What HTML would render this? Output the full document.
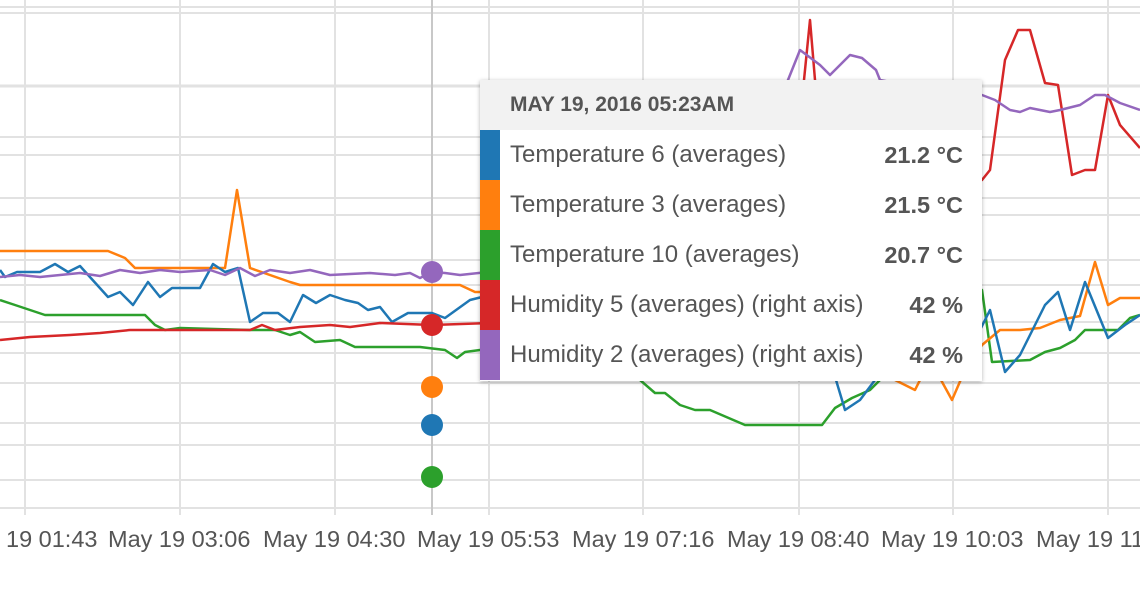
<!DOCTYPE html>
<html><head><meta charset="utf-8"><style>
body{margin:0;width:1140px;height:594px;background:#fff;overflow:hidden;font-family:"Liberation Sans",sans-serif;position:relative}
svg{position:absolute;left:0;top:0}
.tip{position:absolute;left:480px;top:80px;width:502px;height:301px;background:#fff;box-shadow:0 1px 4px rgba(0,0,0,.3)}
.hd{height:50px;background:#f2f2f2;color:#555;font-weight:bold;font-size:21px;line-height:50px;padding-left:30px;white-space:nowrap}
.row{height:50px;position:relative;font-size:24px;color:#555;line-height:50px;white-space:nowrap}
.row .c{position:absolute;left:0;top:0;width:20px;height:50px}
.row .l{position:absolute;left:30px}
.row .v{position:absolute;right:19px;font-weight:bold;font-size:23.5px}
.ax{position:absolute;top:526px;font-size:23.5px;color:#555;white-space:nowrap}
</style></head><body>
<svg width="1140" height="594">
<g stroke="#e2e2e2" stroke-width="2">
<line x1="0" x2="1140" y1="7" y2="7"/><line x1="0" x2="1140" y1="13" y2="13"/>
<line x1="0" x2="1140" y1="86" y2="86" stroke-width="3"/><line x1="0" x2="1140" y1="137" y2="137"/>
<line x1="0" x2="1140" y1="155" y2="155"/><line x1="0" x2="1140" y1="198" y2="198"/>
<line x1="0" x2="1140" y1="215" y2="215"/><line x1="0" x2="1140" y1="260" y2="260"/>
<line x1="0" x2="1140" y1="285" y2="285"/><line x1="0" x2="1140" y1="322" y2="322"/>
<line x1="0" x2="1140" y1="353" y2="353"/><line x1="0" x2="1140" y1="383" y2="383"/>
<line x1="0" x2="1140" y1="423" y2="423"/><line x1="0" x2="1140" y1="445" y2="445"/>
<line x1="0" x2="1140" y1="480" y2="480"/><line x1="0" x2="1140" y1="508" y2="508"/>
<line x1="25" x2="25" y1="0" y2="515"/><line x1="180" x2="180" y1="0" y2="515"/>
<line x1="335" x2="335" y1="0" y2="515"/><line x1="489" x2="489" y1="0" y2="515"/>
<line x1="643" x2="643" y1="0" y2="515"/><line x1="799" x2="799" y1="0" y2="515"/>
<line x1="953" x2="953" y1="0" y2="515"/><line x1="1108" x2="1108" y1="0" y2="515"/>
</g>
<line x1="432" x2="432" y1="0" y2="515" stroke="#c8c8c8" stroke-width="2"/>
<g fill="none" stroke-width="2.5" stroke-linejoin="round">
<polyline stroke="#2ca02c" points="0,300 15,305 30,310 45,315 145,315 155,325 165,330 180,328 250,330 275,330 290,335 300,332 315,342 340,340 355,347 420,347 445,350 457,358 465,352 480,350 560,350 620,365 640,380 655,393 665,393 680,405 695,410 710,410 745,425 822,425 835,408 852,398 870,390 880,380 960,320 982,290 992,362 1030,360 1045,352 1060,348 1075,340 1085,330 1118,330 1130,318 1140,315"/>
<polyline stroke="#ff7f0e" points="0,251 108,251 125,258 135,268 225,268 237,190 250,268 290,282 300,285 460,285 475,292 490,292 600,300 700,320 850,360 880,375 895,380 915,390 930,360 952,400 965,370 982,345 1000,330 1020,330 1040,328 1060,320 1080,316 1095,262 1108,305 1120,298 1140,298"/>
<polyline stroke="#1f77b4" points="0,270 5,277 17,272 40,272 55,264 68,272 80,266 108,297 120,292 133,305 148,282 160,297 172,288 200,288 213,264 225,272 238,268 250,322 263,313 278,313 290,322 303,295 316,303 330,295 345,300 358,303 368,310 380,307 392,322 408,313 432,313 445,318 470,300 490,295 700,300 830,360 845,410 860,400 875,380 960,340 980,330 990,310 1005,372 1020,355 1045,305 1058,292 1070,330 1085,282 1108,338 1125,325 1140,315"/>
<polyline stroke="#d62728" points="0,340 30,337 70,335 100,333 130,330 250,330 262,325 275,330 300,327 330,325 350,327 380,323 432,325 490,323 700,300 790,160 800,120 810,20 815,80 850,150 960,190 982,180 990,170 1005,60 1018,30 1030,30 1045,83 1058,85 1072,175 1085,170 1095,170 1108,95 1120,125 1140,148"/>
<polyline stroke="#9467bd" points="0,277 20,275 40,277 80,273 100,276 120,270 140,273 160,270 180,272 210,270 225,275 240,268 255,276 270,270 290,273 310,270 330,275 370,273 395,275 410,273 420,278 432,272 445,273 460,275 600,260 700,200 780,100 790,75 800,50 820,65 830,75 850,55 862,58 876,70 880,80 960,95 982,95 995,100 1010,110 1020,112 1030,108 1040,110 1050,112 1060,110 1080,105 1095,95 1105,95 1120,103 1140,110"/>
</g>
<circle cx="432" cy="272" r="11" fill="#9467bd"/><circle cx="432" cy="325" r="11" fill="#d62728"/>
<circle cx="432" cy="387" r="11" fill="#ff7f0e"/><circle cx="432" cy="425" r="11" fill="#1f77b4"/>
<circle cx="432" cy="477" r="11" fill="#2ca02c"/>
</svg>
<div class="ax" style="left:6px">19 01:43</div>
<div class="ax" style="left:108px">May 19 03:06</div>
<div class="ax" style="left:263px">May 19 04:30</div>
<div class="ax" style="left:417px">May 19 05:53</div>
<div class="ax" style="left:572px">May 19 07:16</div>
<div class="ax" style="left:727px">May 19 08:40</div>
<div class="ax" style="left:881px">May 19 10:03</div>
<div class="ax" style="left:1036px">May 19 11:26</div>
<div class="tip">
<div class="hd">MAY 19, 2016 05:23AM</div>
<div class="row"><div class="c" style="background:#1f77b4"></div><span class="l">Temperature 6 (averages)</span><span class="v">21.2 °C</span></div>
<div class="row"><div class="c" style="background:#ff7f0e"></div><span class="l">Temperature 3 (averages)</span><span class="v">21.5 °C</span></div>
<div class="row"><div class="c" style="background:#2ca02c"></div><span class="l">Temperature 10 (averages)</span><span class="v">20.7 °C</span></div>
<div class="row"><div class="c" style="background:#d62728"></div><span class="l">Humidity 5 (averages) (right axis)</span><span class="v">42 %</span></div>
<div class="row"><div class="c" style="background:#9467bd"></div><span class="l">Humidity 2 (averages) (right axis)</span><span class="v">42 %</span></div>
</div>
</body></html>
